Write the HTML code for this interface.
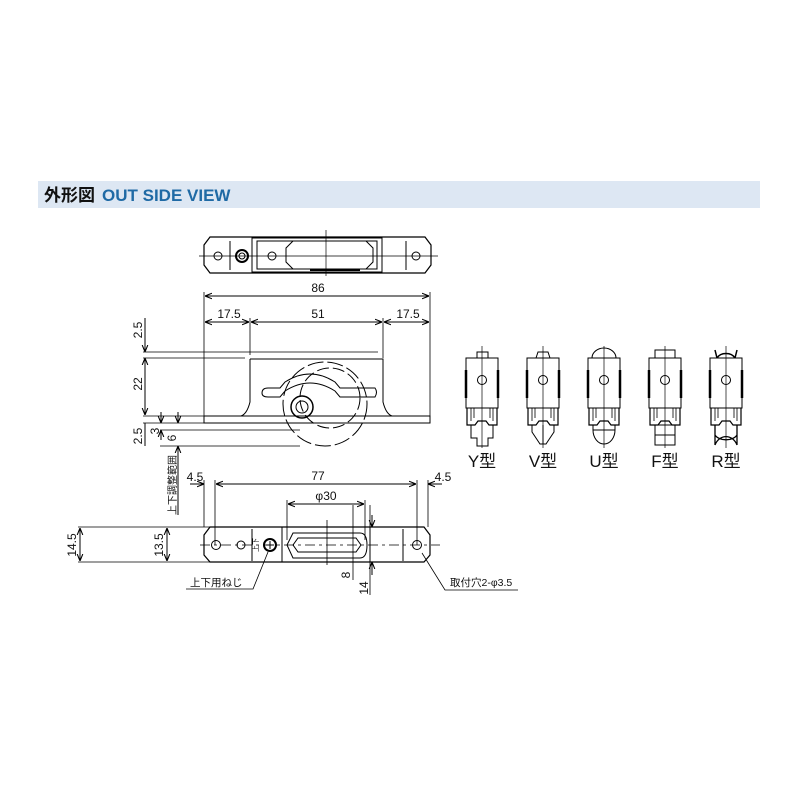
<!DOCTYPE html>
<html><head><meta charset="utf-8"><style>
html,body{margin:0;padding:0;background:#fff;width:800px;height:800px;overflow:hidden}
svg{display:block}
text{font-family:"Liberation Sans","Noto Sans CJK JP",sans-serif;fill:#111}
</style></head><body>
<svg width="800" height="800" viewBox="0 0 800 800" xmlns="http://www.w3.org/2000/svg">
<defs>
<marker id="a" viewBox="0 0 10 10" refX="10" refY="5" markerWidth="7" markerHeight="7" orient="auto-start-reverse"><path d="M0,1 L10,5 L0,9" fill="none" stroke="#000" stroke-width="1.5"/></marker>
<g id="var">
 <rect x="-16" y="0" width="32" height="50" fill="#fff" stroke="#000" stroke-width="1"/>
 <circle cx="0" cy="22" r="4.5" fill="none" stroke="#000" stroke-width="1"/>
 <line x1="-16" y1="12" x2="-16" y2="40" stroke="#000" stroke-width="2.5"/>
 <line x1="16" y1="12" x2="16" y2="40" stroke="#000" stroke-width="2.5"/>
 <path d="M-15,50 V67 H-7 L-4,63 H4 L7,67 H15 V50" fill="none" stroke="#000" stroke-width="1.2"/>
 <path d="M-11,50 V63 M11,50 V63 M-8,50 V60 M8,50 V60" stroke="#000" stroke-width="0.8"/>
</g>
</defs>
<!-- header -->
<rect x="38" y="181" width="722" height="27" fill="#dde7f3"/>
<text x="44" y="201" font-size="17" font-weight="bold">外形図</text>
<text x="102" y="201" font-size="17" font-weight="bold" style="fill:#1f6aa5">OUT SIDE VIEW</text>

<g stroke="#000" fill="none" stroke-width="1">
<!-- top view -->
<path d="M210,237 H425 L431,245 V265 L425,273 H210 L204,265 V245 Z" stroke-width="1.2"/>
<rect x="252" y="238" width="130" height="34"/>
<rect x="257" y="241" width="120" height="28"/>
<path d="M286,248 L293,241 H366 L373,248 V262 L366,269 H293 L286,262 Z"/>
<path d="M230,241 V270 M406,241 V270"/>
<circle cx="218" cy="256" r="4"/><circle cx="416" cy="256" r="4"/>
<circle cx="242" cy="256" r="6" stroke-width="2"/><circle cx="242" cy="256" r="3"/>
<circle cx="272" cy="256" r="4"/>
<line x1="199" y1="256" x2="438" y2="256" stroke-width="0.7"/>
<line x1="326" y1="230" x2="326" y2="276" stroke-width="0.7"/>
<line x1="310" y1="270" x2="360" y2="270" stroke-width="2"/>

<!-- side view dims -->
<path d="M204,292 V418 M430,292 V418 M250,318 V355 M383,318 V358" stroke-width="0.8"/>
<line x1="205" y1="296" x2="429" y2="296" marker-start="url(#a)" marker-end="url(#a)"/>
<line x1="205" y1="322" x2="249" y2="322" marker-start="url(#a)" marker-end="url(#a)"/>
<line x1="251" y1="322" x2="382" y2="322" marker-start="url(#a)" marker-end="url(#a)"/>
<line x1="384" y1="322" x2="429" y2="322" marker-start="url(#a)" marker-end="url(#a)"/>
<!-- body -->
<path d="M250,359 H383 V402 Q386,414 392,416 M250,359 V402 Q247,414 241,416"/>
<path d="M204,416 H430 V423 H204 Z"/>
<path d="M262,393 Q262,388 268,388 H280 L285,382 Q310,366 335,382 L340,388 H375 Q378,392 375,397 H340 L335,391 Q310,375 285,391 L280,397 H268 Q262,397 262,393"/>
<circle cx="325" cy="404" r="42" stroke-dasharray="16,4"/>
<circle cx="330" cy="398" r="30" stroke-dasharray="12,4"/>
<circle cx="302" cy="407" r="11" stroke-width="1.5"/>
<circle cx="302" cy="407" r="6"/>
<!-- left dims -->
<path d="M143,352 H378 M143,358 H245 M143,416 H205 M143,423 H205 M160,430 H300 M160,446 H300" stroke-width="0.8"/>
<line x1="145" y1="318" x2="145" y2="352" marker-end="url(#a)"/>
<line x1="145" y1="358" x2="145" y2="415" marker-start="url(#a)" marker-end="url(#a)"/>
<line x1="145" y1="423" x2="145" y2="446"/>
<line x1="161" y1="412" x2="161" y2="423" marker-end="url(#a)"/>
<line x1="161" y1="430" x2="161" y2="440" marker-start="url(#a)"/>
<line x1="178" y1="412" x2="178" y2="423" marker-end="url(#a)"/>
<line x1="178" y1="446" x2="178" y2="515" marker-start="url(#a)"/>

<!-- bottom view dims -->
<path d="M204,480 V527 M215,480 V545 M417,480 V545 M428,480 V527 M287,500 V540 M365,500 V540" stroke-width="0.8"/>
<line x1="190" y1="484" x2="204" y2="484" marker-end="url(#a)"/>
<line x1="216" y1="484" x2="416" y2="484" marker-start="url(#a)" marker-end="url(#a)"/>
<line x1="442" y1="484" x2="428" y2="484" marker-end="url(#a)"/>
<line x1="288" y1="504" x2="364" y2="504" marker-start="url(#a)" marker-end="url(#a)"/>
<path d="M78,527 H275 M78,562 H275" stroke-width="0.8"/>
<line x1="80" y1="528" x2="80" y2="561" marker-start="url(#a)" marker-end="url(#a)"/>
<line x1="167" y1="528" x2="167" y2="561" marker-start="url(#a)" marker-end="url(#a)"/>
<!-- bottom body -->
<path d="M210,527 H424 L430,535 V555 L424,562 H210 L204,555 V535 Z" stroke-width="1.2"/>
<rect x="282" y="527" width="88" height="35"/>
<path d="M293,533 H360 Q367,533 367,545 Q367,558 360,558 H293 L287,545 Z"/>
<path d="M298,538 H356 L361,545 L356,552 H298 L293,545 Z"/>
<path d="M252,529 V561 M403,529 V561"/>
<circle cx="216" cy="545" r="4.5"/><circle cx="241" cy="545" r="4"/><circle cx="417" cy="545" r="4.5"/>
<circle cx="270" cy="545" r="6" stroke-width="2"/>
<path d="M266,545 H274 M270,541 V549"/>
<line x1="200" y1="545" x2="440" y2="545" stroke-width="0.7" stroke-dasharray="10,4,3,4"/>
<path d="M327,520 V565 M353,505 V580 M370,505 V595" stroke-width="0.8"/>
<line x1="372" y1="515" x2="372" y2="527" marker-end="url(#a)"/>
<line x1="372" y1="575" x2="372" y2="562" marker-end="url(#a)"/>
<!-- leaders -->
<path d="M186,589 H253 L268,552" stroke-width="0.8"/>
<path d="M518,590 H445 L422,553" stroke-width="0.8"/>
</g>

<g font-size="12">
<text x="318" y="292" text-anchor="middle">86</text>
<text x="229" y="318" text-anchor="middle">17.5</text>
<text x="318" y="318" text-anchor="middle">51</text>
<text x="408" y="318" text-anchor="middle">17.5</text>
<text transform="translate(142,330) rotate(-90)" text-anchor="middle">2.5</text>
<text transform="translate(142,384) rotate(-90)" text-anchor="middle">22</text>
<text transform="translate(142,436) rotate(-90)" text-anchor="middle">2.5</text>
<text transform="translate(159,431) rotate(-90)" text-anchor="middle">3</text>
<text transform="translate(176,438) rotate(-90)" text-anchor="middle">6</text>
<text transform="translate(176,485) rotate(-90)" text-anchor="middle" font-size="10">上下調整範囲</text>
<text x="195" y="481" text-anchor="middle">4.5</text>
<text x="318" y="480" text-anchor="middle">77</text>
<text x="443" y="481" text-anchor="middle">4.5</text>
<text x="326" y="500" text-anchor="middle">φ30</text>
<text transform="translate(76,545) rotate(-90)" text-anchor="middle">14.5</text>
<text transform="translate(163,545) rotate(-90)" text-anchor="middle">13.5</text>
<text transform="translate(350,575) rotate(-90)" text-anchor="middle">8</text>
<text transform="translate(368,588) rotate(-90)" text-anchor="middle">14</text>
<text x="190" y="586" font-size="10.5">上下用ねじ</text>
<text x="450" y="586" font-size="10.5">取付穴2-φ3.5</text>
<text transform="translate(258,545) rotate(-90)" text-anchor="middle" font-size="7">上下</text>
</g>

<!-- variants -->
<g stroke="#000" fill="none" stroke-width="1">
 <g transform="translate(482,358)"><rect x="-5" y="-6" width="11" height="6"/><use href="#var"/><path d="M-11,67 V80 H-5 V88 H6 V80 H11 V67"/><line x1="0" y1="-12" x2="0" y2="90" stroke-width="0.7"/></g>
 <g transform="translate(543,358)"><path d="M-7,0 L-5,-6 H5 L7,0"/><use href="#var"/><path d="M-11,67 V74 L-3,86 H3 L11,74 V67 M0,67 V86"/><line x1="0" y1="-12" x2="0" y2="90" stroke-width="0.7"/></g>
 <g transform="translate(604,358)"><path d="M-12,0 A12,10 0 0 1 12,0"/><use href="#var"/><path d="M-11,67 V72 A11,14 0 0 0 11,72 V67 M-11,72 H11"/><line x1="0" y1="-12" x2="0" y2="90" stroke-width="0.7"/></g>
 <g transform="translate(665,358)"><rect x="-10" y="-8" width="20" height="8"/><use href="#var"/><rect x="-10" y="67" width="20" height="20"/><line x1="-10" y1="77" x2="10" y2="77"/><line x1="0" y1="-12" x2="0" y2="90" stroke-width="0.7"/></g>
 <g transform="translate(726,358)"><path d="M-11,-8 L-9,0 M11,-8 L9,0 M-9,0 A10,8 0 0 1 9,0" stroke-width="1.5"/><use href="#var"/><path d="M-11,67 V87 M11,67 V87 M-11,87 A12,14 0 0 1 11,87 M-11,77 A12,8 0 0 0 11,77" stroke-width="1.3"/><line x1="0" y1="-12" x2="0" y2="90" stroke-width="0.7"/></g>
</g>
<g font-size="17" text-anchor="middle">
<text x="482" y="467">Y型</text><text x="543" y="467">V型</text><text x="604" y="467">U型</text><text x="665" y="467">F型</text><text x="726" y="467">R型</text>
</g>
</svg>
</body></html>
